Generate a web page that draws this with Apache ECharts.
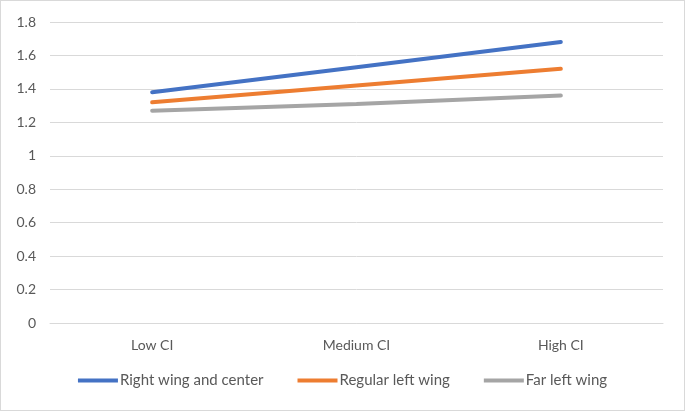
<!DOCTYPE html>
<html>
<head>
<meta charset="utf-8">
<script src="https://cdn.jsdelivr.net/npm/echarts@6/dist/echarts.min.js"></script>
<style>
html,body{margin:0;padding:0;background:#fff;}
#c{width:683px;height:409px;border:1px solid #d9d9d9;}
</style>
</head>
<body>
<div id="c"></div>
<script>
const categories = ['Low CI', 'Medium CI', 'High CI'];
const rightWingCenter = [1.38, 1.53, 1.68];
const regularLeftWing = [1.32, 1.42, 1.52];
const farLeftWing = [1.27, 1.31, 1.36];
const seriesNames = ['Right wing and center', 'Regular left wing', 'Far left wing'];
const colors = ['#4472C4', '#ED7D31', '#A5A5A5'];

const chart = echarts.init(document.getElementById('c'));
const font = 'Lato, "Open Sans", sans-serif';
const mk = (name, data, color) => ({
  name, type: 'line', data, symbol: 'none', smooth: false,
  lineStyle: { width: 4, color, cap: 'round' }, itemStyle: { color }
});
chart.setOption({
  animation: false,
  color: colors,
  grid: { left: 49, right: 21, top: 21, bottom: 87 },
  legend: {
    bottom: 17, left: 'center', itemWidth: 40, itemHeight: 4, itemGap: 34,
    icon: 'rect',
    textStyle: { color: '#595959', fontSize: 15, fontFamily: font, padding: [0, 0, 0, -3] },
    data: seriesNames
  },
  xAxis: {
    type: 'category', data: categories, boundaryGap: true,
    axisLine: { show: true, lineStyle: { color: '#d9d9d9', width: 1 } },
    axisTick: { show: false },
    axisLabel: { color: '#595959', fontSize: 14, fontFamily: font, margin: 15 }
  },
  yAxis: {
    type: 'value', min: 0, max: 1.8, interval: 0.2,
    axisLine: { show: false }, axisTick: { show: false },
    splitLine: { lineStyle: { color: '#d9d9d9', width: 1 } },
    axisLabel: { color: '#595959', fontSize: 14, fontFamily: font, margin: 14,
      formatter: v => String(Math.round(v * 10) / 10) }
  },
  series: [
    mk(seriesNames[0], rightWingCenter, colors[0]),
    mk(seriesNames[1], regularLeftWing, colors[1]),
    mk(seriesNames[2], farLeftWing, colors[2])
  ]
});
</script>
</body>
</html>
